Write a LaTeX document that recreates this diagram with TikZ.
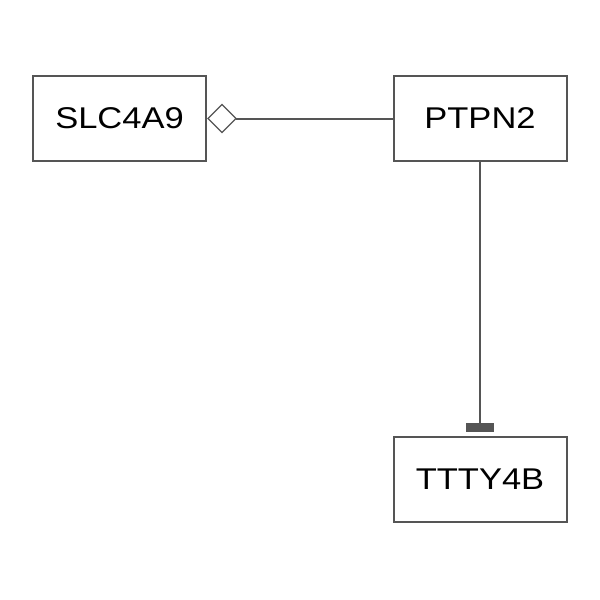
\documentclass[tikz,border=0pt]{standalone}
\usepackage{fontspec}
\setmainfont{Liberation Sans}
\definecolor{edge}{RGB}{85,85,85}
\begin{document}
\begin{tikzpicture}[x=1pt,y=-1pt,
  gene/.style={draw=edge,line width=2pt,minimum width=173pt,minimum height=85pt,inner sep=0pt,
    font=\fontsize{30}{32}\selectfont,text=black},
  conn/.style={draw=edge,line width=2pt}]
\useasboundingbox (0,0) rectangle (600,600);
\node[gene] (slc) at (119.5,118.5) {\addfontfeature{FakeStretch=1.15}SLC4A9};
\node[gene] (ptp) at (480,118.5) {\addfontfeature{FakeStretch=1.15}PTPN2};
\node[gene] (tty) at (480,479.5) {\addfontfeature{FakeStretch=1.15}TTTY4B};
\coordinate (dl) at (slc.east);
\coordinate (dr) at ([xshift=29pt]slc.east);
\draw[draw=edge,line width=1.2pt,fill=white] ([xshift=1pt]dl) -- ([xshift=15pt,yshift=-14pt]dl) -- (dr) -- ([xshift=15pt,yshift=14pt]dl) -- cycle;
\draw[conn] (dr) -- (ptp.west);
\coordinate (tb) at ([yshift=8.5pt]tty.north);
\draw[conn] (ptp.south) -- (tb);
\fill[edge] ([xshift=-14pt,yshift=-4.5pt]tb) rectangle ([xshift=14pt,yshift=4.5pt]tb);
\end{tikzpicture}
\end{document}
